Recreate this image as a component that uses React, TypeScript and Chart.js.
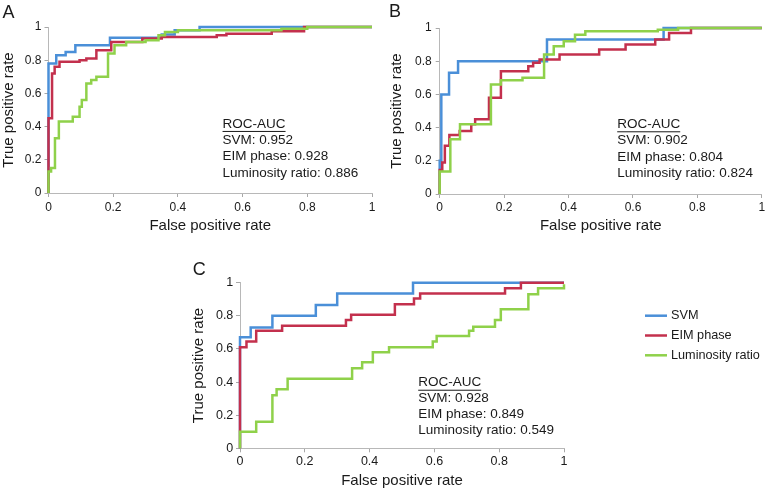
import React, { useEffect, useRef } from 'react';
import { Chart, registerables } from 'chart.js';

Chart.register(...registerables);

type Pt = [number, number];

const FONT = '"Liberation Sans", Arial, Helvetica, sans-serif';
Chart.defaults.font.family = FONT;

const seriesNames = ['SVM', 'EIM phase', 'Luminosity ratio'];
const seriesColors = ['#4a8fd8', '#c3304d', '#8fd14a'];
const xAxisTitle = 'False positive rate';
const yAxisTitle = 'True positive rate';
const aucHeading = 'ROC-AUC';

// Panel A ROC points (false positive rate, true positive rate)
const aSvm: Pt[] = [[0, 0], [0, 0.78], [0.024, 0.83], [0.053, 0.85], [0.083, 0.89], [0.19, 0.935], [0.35, 0.955], [0.39, 0.98], [0.467, 1.0], [1, 1]];
const aEim: Pt[] = [[0, 0], [0, 0.45], [0.011, 0.72], [0.019, 0.76], [0.034, 0.79], [0.096, 0.8], [0.117, 0.81], [0.148, 0.86], [0.194, 0.91], [0.29, 0.93], [0.35, 0.94], [0.52, 0.95], [0.55, 0.96], [0.69, 0.975], [0.79, 1.0], [1, 1]];
const aLum: Pt[] = [[0, 0], [0, 0.13], [0.008, 0.15], [0.02, 0.33], [0.032, 0.43], [0.075, 0.46], [0.096, 0.52], [0.103, 0.56], [0.117, 0.66], [0.132, 0.68], [0.148, 0.7], [0.184, 0.84], [0.204, 0.89], [0.24, 0.91], [0.3, 0.92], [0.34, 0.95], [0.36, 0.97], [0.4, 0.98], [0.72, 0.99], [0.8, 1.0], [1, 1]];

// Panel B ROC points
const bSvm: Pt[] = [[0, 0], [0, 0.2], [0.005, 0.6], [0.029, 0.73], [0.057, 0.8], [0.333, 0.93], [0.695, 1.0], [1, 1]];
const bEim: Pt[] = [[0, 0], [0, 0.145], [0.008, 0.19], [0.016, 0.29], [0.03, 0.355], [0.062, 0.38], [0.098, 0.42], [0.11, 0.45], [0.153, 0.58], [0.19, 0.74], [0.275, 0.77], [0.29, 0.79], [0.31, 0.81], [0.372, 0.84], [0.495, 0.87], [0.577, 0.9], [0.669, 0.93], [0.712, 0.97], [0.78, 1.0], [1, 1]];
const bLum: Pt[] = [[0, 0], [0, 0.135], [0.033, 0.33], [0.063, 0.42], [0.159, 0.66], [0.19, 0.685], [0.257, 0.7], [0.324, 0.84], [0.354, 0.89], [0.385, 0.92], [0.42, 0.96], [0.452, 0.98], [0.677, 0.99], [0.74, 1.0], [1, 1]];

// Panel C ROC points
const cSvm: Pt[] = [[0, 0], [0, 0.67], [0.033, 0.73], [0.1, 0.8], [0.234, 0.865], [0.3, 0.935], [0.534, 1.0], [1, 1]];
const cEim: Pt[] = [[0, 0], [0, 0.61], [0.02, 0.645], [0.05, 0.71], [0.13, 0.74], [0.327, 0.775], [0.343, 0.806], [0.478, 0.87], [0.537, 0.905], [0.556, 0.935], [0.818, 0.966], [0.867, 1.0], [1, 1]];
const cLum: Pt[] = [[0, 0], [0, 0.1], [0.05, 0.16], [0.1, 0.32], [0.113, 0.356], [0.147, 0.42], [0.346, 0.483], [0.377, 0.52], [0.41, 0.58], [0.46, 0.61], [0.595, 0.645], [0.607, 0.678], [0.707, 0.71], [0.72, 0.734], [0.787, 0.775], [0.805, 0.84], [0.89, 0.93], [0.92, 0.966], [1, 0.99]];

// ROC-AUC values (SVM, EIM phase, Luminosity ratio)
const aucA = [0.952, 0.928, 0.886];
const aucB = [0.902, 0.804, 0.824];
const aucC = [0.928, 0.849, 0.549];

type PanelCfg = {
  letter: string;
  series: Pt[][];
  auc: number[];
  left: number; top: number; width: number; height: number;
  padding: { left: number; right: number; top: number; bottom: number };
  yWidth: number; xHeight: number;
  tickFont: number;
  xTickPad: number; yTickPad: number; xTitlePad: number;
  letterX: number; letterY: number;
  textX: number; textY: number; lineGap: number;
  legend: boolean;
};

const panels: PanelCfg[] = [
  {
    letter: 'A', series: [aSvm, aEim, aLum], auc: aucA,
    left: 0, top: 0, width: 384, height: 240,
    padding: { left: 0, right: 12, top: 27, bottom: 0 },
    yWidth: 48.5, xHeight: 47, tickFont: 12, xTickPad: 3.3, yTickPad: 3, xTitlePad: 5,
    letterX: 2.5, letterY: 17.5,
    textX: 0.538, textY: 0.416, lineGap: 16.3, legend: false,
  },
  {
    letter: 'B', series: [bSvm, bEim, bLum], auc: aucB,
    left: 384, top: 0, width: 384, height: 240,
    padding: { left: 3.5, right: 3, top: 28, bottom: 0 },
    yWidth: 52.2, xHeight: 46, tickFont: 12, xTickPad: 2.8, yTickPad: 4, xTitlePad: 5,
    letterX: 5, letterY: 17,
    textX: 0.551, textY: 0.42, lineGap: 16.3, legend: false,
  },
  {
    letter: 'C', series: [cSvm, cEim, cLum], auc: aucC,
    left: 150, top: 240, width: 618, height: 251,
    padding: { left: 40, right: 204, top: 42.7, bottom: 0 },
    yWidth: 50, xHeight: 42.7, tickFont: 12.5, xTickPad: 2, yTickPad: 2.7, xTitlePad: 1,
    letterX: 42.7, letterY: 35,
    textX: 0.55, textY: 0.396, lineGap: 16, legend: true,
  },
];

const formatTick = (v: number | string) => String(Number(Number(v).toFixed(1)));

function makeDecor(cfg: PanelCfg) {
  return {
    id: 'panelDecor' + cfg.letter,
    afterDraw(chart: any) {
      const ctx: CanvasRenderingContext2D = chart.ctx;
      const xs = chart.scales.x;
      const ys = chart.scales.y;
      const area = chart.chartArea;
      ctx.save();
      ctx.fillStyle = '#1a1a1a';
      ctx.textAlign = 'left';
      ctx.textBaseline = 'alphabetic';
      ctx.font = `18px ${FONT}`;
      ctx.fillText(cfg.letter, cfg.letterX, cfg.letterY);

      ctx.font = `13.5px ${FONT}`;
      ctx.textBaseline = 'middle';
      const x0 = xs.getPixelForValue(cfg.textX);
      const y0 = ys.getPixelForValue(cfg.textY);
      ctx.fillText(aucHeading, x0, y0);
      const w = ctx.measureText(aucHeading).width;
      ctx.fillRect(x0, y0 + 7, w, 1);
      cfg.auc.forEach((v, i) => {
        ctx.fillText(`${seriesNames[i]}: ${v.toFixed(3)}`, x0, y0 + (i + 1) * cfg.lineGap);
      });

      if (cfg.legend) {
        ctx.font = `12.7px ${FONT}`;
        const lx = area.right + 81;
        const ly = area.top + 33;
        chart.data.datasets.forEach((ds: any, i: number) => {
          const y = ly + i * 19.8;
          ctx.strokeStyle = ds.borderColor;
          ctx.lineWidth = 2.5;
          ctx.beginPath();
          ctx.moveTo(lx, y);
          ctx.lineTo(lx + 22, y);
          ctx.stroke();
          ctx.fillText(ds.label, lx + 26, y);
        });
      }
      ctx.restore();
    },
  };
}

function Panel({ cfg }: { cfg: PanelCfg }) {
  const ref = useRef<HTMLCanvasElement | null>(null);
  useEffect(() => {
    if (!ref.current) return;
    const datasets = cfg.series.map((pts, i) => ({
      label: seriesNames[i],
      data: pts.map(([x, y]) => ({ x, y })),
      borderColor: seriesColors[i],
      backgroundColor: seriesColors[i],
      borderWidth: 2.5,
      pointRadius: 0,
      stepped: 'before' as const,
      fill: false,
      clip: 4,
      order: 2 - i,
    }));
    const chart = new Chart(ref.current, {
      type: 'line',
      data: { datasets },
      options: {
        animation: false,
        responsive: false,
        maintainAspectRatio: false,
        events: [],
        layout: { padding: cfg.padding },
        plugins: { legend: { display: false }, tooltip: { enabled: false } },
        scales: {
          x: {
            type: 'linear', min: 0, max: 1,
            ticks: { stepSize: 0.2, color: '#1a1a1a', font: { size: cfg.tickFont }, padding: cfg.xTickPad, maxRotation: 0, autoSkip: false, callback: formatTick },
            grid: { display: true, drawOnChartArea: false, drawTicks: true, tickLength: 4, tickColor: '#a8a8a8' },
            border: { display: true, color: '#b8b8b8', width: 1 },
            title: { display: true, text: xAxisTitle, color: '#1a1a1a', font: { size: 15 }, padding: { top: 0, bottom: cfg.xTitlePad } },
            afterFit: (s: any) => { s.height = cfg.xHeight; },
          },
          y: {
            type: 'linear', min: 0, max: 1,
            ticks: { stepSize: 0.2, color: '#1a1a1a', font: { size: cfg.tickFont }, padding: cfg.yTickPad, callback: formatTick },
            grid: { display: true, drawOnChartArea: false, drawTicks: true, tickLength: 4, tickColor: '#a8a8a8' },
            border: { display: true, color: '#b8b8b8', width: 1 },
            title: { display: true, text: yAxisTitle, color: '#1a1a1a', font: { size: 15 }, padding: { top: 0, bottom: 0 } },
            afterFit: (s: any) => { s.width = cfg.yWidth; },
          },
        },
      },
      plugins: [makeDecor(cfg)],
    } as any);
    return () => chart.destroy();
  }, [cfg]);
  return (
    <canvas
      ref={ref}
      width={cfg.width}
      height={cfg.height}
      style={{ position: 'absolute', left: cfg.left, top: cfg.top, width: cfg.width, height: cfg.height }}
    />
  );
}

export default function App() {
  return (
    <div style={{ position: 'absolute', left: 0, top: 0, width: 768, height: 491, background: '#ffffff', overflow: 'hidden' }}>
      {panels.map((p) => <Panel key={p.letter} cfg={p} />)}
    </div>
  );
}
